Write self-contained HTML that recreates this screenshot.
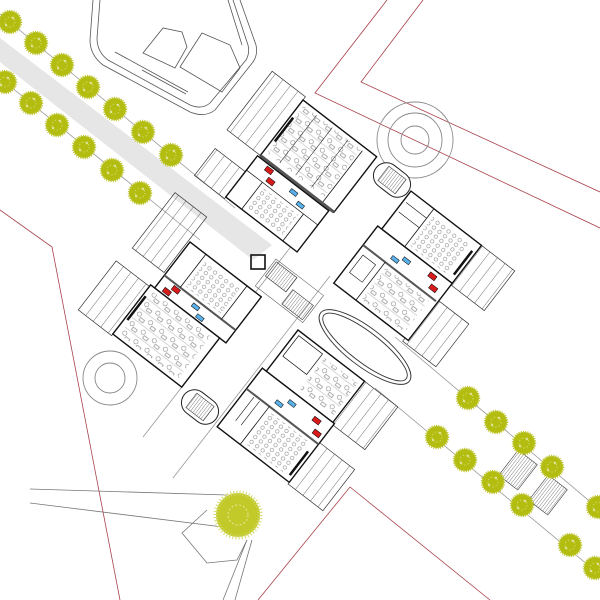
<!DOCTYPE html>
<html><head><meta charset="utf-8"><style>html,body{margin:0;padding:0;background:#fff}svg{display:block}</style></head>
<body>
<svg width="600" height="600" viewBox="0 0 600 600" xmlns="http://www.w3.org/2000/svg">
<defs>
<pattern id="vs" width="9.5" height="10" patternUnits="userSpaceOnUse"><line x1="0" y1="0" x2="0" y2="10" stroke="#333" stroke-width="0.7"/></pattern>
<pattern id="hs" width="2.6" height="10" patternUnits="userSpaceOnUse"><line x1="0" y1="0" x2="0" y2="10" stroke="#333" stroke-width="0.6"/></pattern>
<pattern id="dots" width="7" height="6" patternUnits="userSpaceOnUse"><circle cx="3.5" cy="3" r="1.8" fill="none" stroke="#777" stroke-width="0.5"/></pattern>
<pattern id="furn" width="14" height="12" patternUnits="userSpaceOnUse"><circle cx="4" cy="4" r="2.2" fill="none" stroke="#666" stroke-width="0.5"/><rect x="7" y="6" width="5" height="3" fill="none" stroke="#666" stroke-width="0.5"/><line x1="0" y1="11" x2="14" y2="11" stroke="#999" stroke-width="0.4"/></pattern>
<g id="tree"><circle r="11" fill="#b3bd10" stroke="#bcc430" stroke-width="2.5" stroke-dasharray="1 1.2"/><circle r="5" fill="none" stroke="#d6dc7a" stroke-width="0.8" stroke-dasharray="1.5 2"/><circle cx="-4" cy="3" r="1.2" fill="#dfe39a"/><circle cx="3" cy="-4" r="1.2" fill="#dfe39a"/></g>
</defs>

<g fill="none" stroke="#a8424c" stroke-width="0.8">
<polyline points="387,0 315,93 600,228"/>
<polyline points="423,0 361,82 600,192"/>
<polyline points="0,210 52,247 120,600"/>
<polyline points="258,600 350,487 490,600"/>
</g>

<polygon points="0,38 0,62 253,260 272,245" fill="#e6e6e6"/>

<g stroke="#999" stroke-width="0.8">
<line x1="0" y1="14" x2="235" y2="208"/>
<line x1="0" y1="78" x2="200" y2="240"/>
<line x1="395" y1="337" x2="600" y2="510"/>
<line x1="375" y1="388" x2="600" y2="575"/>
<line x1="143" y1="437" x2="300" y2="235"/>
<line x1="173" y1="478" x2="330" y2="276"/>
</g>

<g fill="none" stroke="#555" stroke-width="0.8">
<path d="M93,0 L90,40 Q90,55 103,65 L190,112 Q205,118 215,110 L253,62 Q258,55 256,45 L240,0"/>
<path d="M100,0 L97,38 Q97,52 108,60 L190,105 Q202,110 210,103 L246,60 Q250,53 248,45 L233,0"/>
<path d="M115,52 L188,92 M142,70 L186,94 M228,0 L242,45"/>
<polygon points="143,53 163,28 182,32 187,47 175,68"/>
<polygon points="180,67 202,33 230,45 240,68 222,92"/>
</g>

<g fill="none" stroke="#777" stroke-width="0.8">
<line x1="30" y1="489" x2="227" y2="495"/>
<line x1="30" y1="503" x2="247" y2="530"/>
<polyline points="207,510 182,533 207,563 237,560 247,540"/>
<line x1="247" y1="540" x2="223" y2="600"/>
<line x1="252" y1="540" x2="235" y2="600"/>
</g>
<g transform="translate(238,515)"><circle r="22" fill="#c2ca2a" stroke="#d3d96a" stroke-width="5" stroke-dasharray="1 2"/><circle r="10" fill="none" stroke="#e4e79a" stroke-width="1" stroke-dasharray="2 2"/></g>

<g fill="none" stroke="#888" stroke-width="0.9">
<circle cx="415" cy="140" r="38"/><circle cx="415" cy="140" r="27"/><circle cx="415" cy="140" r="14"/>
<circle cx="110" cy="378" r="27"/><circle cx="110" cy="378" r="15"/>
</g>

<g transform="translate(365,347) rotate(37.6)" fill="none" stroke="#333" stroke-width="0.9">
<ellipse rx="56" ry="19"/><ellipse rx="52" ry="15"/>
</g>

<g transform="translate(392,180) rotate(37.6)"><rect x="-20" y="-13" width="40" height="26" rx="13" fill="#fff" stroke="#222" stroke-width="1"/><rect x="-11" y="-9" width="22" height="18" fill="url(#hs)" stroke="#333" stroke-width="0.5"/></g>
<g transform="translate(200,407) rotate(37.6)"><rect x="-20" y="-13" width="40" height="26" rx="13" fill="#fff" stroke="#222" stroke-width="1"/><rect x="-11" y="-9" width="22" height="18" fill="url(#hs)" stroke="#333" stroke-width="0.5"/></g>

<g transform="translate(290,290) rotate(37.6)">
<rect x="-28" y="-14" width="26" height="18" fill="url(#hs)" stroke="#333" stroke-width="0.6"/>
<rect x="2" y="-2" width="26" height="18" fill="url(#hs)" stroke="#333" stroke-width="0.6"/>
<rect x="-30" y="-16" width="60" height="34" fill="none" stroke="#666" stroke-width="0.6"/>
</g>
<rect x="251" y="255" width="14" height="14" fill="none" stroke="#111" stroke-width="1.6"/>

<g transform="translate(303,100) rotate(37.6)" stroke="#111" fill="none">
<rect x="-42" y="-4" width="42" height="74" fill="url(#vs)" stroke="#333" stroke-width="0.7"/>
<rect x="-40" y="92" width="38" height="34" fill="url(#vs)" stroke="#333" stroke-width="0.7"/>
<rect x="0" y="0" width="93" height="70" fill="#fff" stroke-width="1.4"/>
<rect x="4" y="4" width="72" height="60" fill="url(#furn)" stroke="none"/>
<line x1="20" y1="4" x2="20" y2="64" stroke-width="0.5"/><line x1="40" y1="4" x2="40" y2="64" stroke-width="0.5"/><line x1="60" y1="4" x2="60" y2="64" stroke-width="0.5"/>
<line x1="3" y1="20" x2="3" y2="50" stroke-width="2.5"/><line x1="78" y1="4" x2="78" y2="70" stroke-width="0.8"/>
<line x1="0" y1="70" x2="93" y2="70" stroke="#555" stroke-width="3"/>
<rect x="-2" y="72" width="90" height="52" fill="#fff" stroke-width="1.4"/>
<line x1="-2" y1="90" x2="88" y2="90" stroke-width="0.7"/>
<line x1="18" y1="90" x2="18" y2="124" stroke-width="0.8"/><line x1="70" y1="90" x2="70" y2="124" stroke-width="0.8"/>
<rect x="22" y="94" width="44" height="26" fill="url(#dots)" stroke="none"/>
<rect x="12" y="74" width="8" height="5" fill="#d81c1c" stroke="#000" stroke-width="0.5"/>
<rect x="20" y="82" width="8" height="5" fill="#d81c1c" stroke="#000" stroke-width="0.5"/>
<rect x="45" y="77" width="8" height="4" fill="#5ab0e8" stroke="#000" stroke-width="0.5"/>
<rect x="58" y="83" width="8" height="4" fill="#5ab0e8" stroke="#000" stroke-width="0.5"/>
</g>

<g transform="translate(190,242) rotate(37.6)" stroke="#111" fill="none">
<rect x="-42" y="-30" width="40" height="70" fill="url(#vs)" stroke="#333" stroke-width="0.7"/>
<rect x="-47" y="60" width="42" height="62" fill="url(#vs)" stroke="#333" stroke-width="0.7"/>
<rect x="0" y="0" width="90" height="58" fill="#fff" stroke-width="1.4"/>
<line x1="0" y1="42" x2="90" y2="42" stroke="#555" stroke-width="2"/>
<line x1="20" y1="0" x2="20" y2="42" stroke-width="0.8"/><line x1="72" y1="0" x2="72" y2="42" stroke-width="0.8"/>
<rect x="24" y="6" width="44" height="32" fill="url(#dots)" stroke="none"/>
<rect x="-5" y="58" width="87" height="62" fill="#fff" stroke-width="1.4"/>
<rect x="0" y="62" width="74" height="54" fill="url(#furn)" stroke="none"/>
<line x1="-2" y1="70" x2="-2" y2="100" stroke-width="2.5"/>
<rect x="14" y="44" width="8" height="5" fill="#d81c1c" stroke="#000" stroke-width="0.5"/>
<rect x="8" y="51" width="8" height="5" fill="#d81c1c" stroke="#000" stroke-width="0.5"/>
<rect x="40" y="46" width="8" height="4" fill="#5ab0e8" stroke="#000" stroke-width="0.5"/>
<rect x="50" y="52" width="8" height="4" fill="#5ab0e8" stroke="#000" stroke-width="0.5"/>
</g>

<g transform="translate(407,188) rotate(37.6)" stroke="#111" fill="none">
<rect x="94" y="0" width="42" height="50" fill="url(#vs)" stroke="#333" stroke-width="0.7"/>
<rect x="90" y="70" width="42" height="54" fill="url(#vs)" stroke="#333" stroke-width="0.7"/>
<rect x="5" y="0" width="89" height="48" fill="#fff" stroke-width="1.4"/>
<line x1="34" y1="0" x2="34" y2="48" stroke-width="0.8"/>
<line x1="8" y1="12" x2="34" y2="12" stroke-width="0.6"/><line x1="8" y1="24" x2="34" y2="24" stroke-width="0.6"/>
<rect x="38" y="6" width="46" height="38" fill="url(#dots)" stroke="none"/>
<line x1="90" y1="10" x2="90" y2="40" stroke-width="2.5"/>
<rect x="0" y="48" width="94" height="72" fill="#fff" stroke-width="1.4"/>
<line x1="0" y1="72" x2="92" y2="72" stroke="#555" stroke-width="2"/>
<line x1="28" y1="72" x2="28" y2="120" stroke-width="0.8"/>
<rect x="32" y="76" width="54" height="40" fill="url(#furn)" stroke="none"/>
<rect x="6" y="80" width="16" height="22" stroke-width="0.6"/>
<rect x="70" y="52" width="8" height="5" fill="#d81c1c" stroke="#000" stroke-width="0.5"/>
<rect x="78" y="61" width="8" height="5" fill="#d81c1c" stroke="#000" stroke-width="0.5"/>
<rect x="40" y="56" width="8" height="4" fill="#5ab0e8" stroke="#000" stroke-width="0.5"/>
<rect x="30" y="62" width="8" height="4" fill="#5ab0e8" stroke="#000" stroke-width="0.5"/>
</g>

<g transform="translate(298,330) rotate(37.6)" stroke="#111" fill="none">
<rect x="84" y="0" width="42" height="54" fill="url(#vs)" stroke="#333" stroke-width="0.7"/>
<rect x="86" y="76" width="44" height="52" fill="url(#vs)" stroke="#333" stroke-width="0.7"/>
<rect x="0" y="0" width="84" height="52" fill="#fff" stroke-width="1.4"/>
<rect x="4" y="4" width="30" height="26" stroke-width="0.7"/>
<rect x="38" y="6" width="42" height="40" fill="url(#furn)" stroke="none"/>
<rect x="-5" y="52" width="91" height="74" fill="#fff" stroke-width="1.4"/>
<line x1="-5" y1="78" x2="86" y2="78" stroke="#555" stroke-width="2"/>
<line x1="24" y1="78" x2="24" y2="126" stroke-width="0.8"/>
<line x1="6" y1="80" x2="6" y2="110" stroke-width="0.6"/><line x1="13" y1="80" x2="13" y2="110" stroke-width="0.6"/>
<rect x="28" y="82" width="50" height="40" fill="url(#dots)" stroke="none"/>
<line x1="82" y1="90" x2="82" y2="120" stroke-width="2.5"/>
<rect x="66" y="58" width="8" height="5" fill="#d81c1c" stroke="#000" stroke-width="0.5"/>
<rect x="74" y="68" width="8" height="5" fill="#d81c1c" stroke="#000" stroke-width="0.5"/>
<rect x="36" y="60" width="8" height="4" fill="#5ab0e8" stroke="#000" stroke-width="0.5"/>
<rect x="26" y="68" width="8" height="4" fill="#5ab0e8" stroke="#000" stroke-width="0.5"/>
</g>

<g transform="translate(518,470) rotate(37.6)"><rect x="-12" y="-16" width="24" height="32" fill="url(#hs)" stroke="#333" stroke-width="0.6"/></g>
<g transform="translate(548,495) rotate(37.6)"><rect x="-12" y="-16" width="24" height="32" fill="url(#hs)" stroke="#333" stroke-width="0.6"/></g>

<use href="#tree" x="10" y="22"/><use href="#tree" x="36" y="43"/><use href="#tree" x="62" y="65"/><use href="#tree" x="88" y="87"/><use href="#tree" x="115" y="109"/><use href="#tree" x="143" y="132"/><use href="#tree" x="171" y="155"/>
<use href="#tree" x="5" y="82"/><use href="#tree" x="31" y="103"/><use href="#tree" x="57" y="125"/><use href="#tree" x="84" y="147"/><use href="#tree" x="112" y="170"/><use href="#tree" x="140" y="193"/>
<use href="#tree" x="468" y="398"/><use href="#tree" x="496" y="422"/><use href="#tree" x="524" y="443"/><use href="#tree" x="552" y="467"/><use href="#tree" x="598" y="507"/>
<use href="#tree" x="437" y="437"/><use href="#tree" x="465" y="460"/><use href="#tree" x="493" y="482"/><use href="#tree" x="522" y="505"/><use href="#tree" x="570" y="545"/><use href="#tree" x="595" y="568"/>
</svg>
</body></html>
